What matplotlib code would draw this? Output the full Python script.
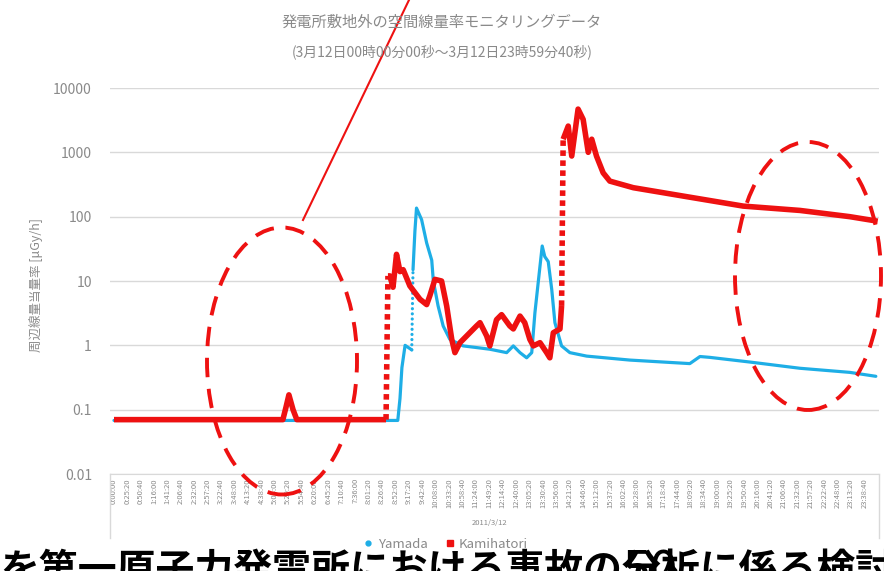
import numpy as np
import matplotlib.pyplot as plt
from matplotlib.patches import Ellipse
from matplotlib.lines import Line2D

plt.rcParams['font.family'] = ['Noto Sans CJK JP', 'DejaVu Sans']

# dose rate readings, time in hours from 0:00 on 2011/3/12
yamada_t = [0, 8.94, 9.01, 9.07, 9.17, 9.38, 9.42, 9.48, 9.53, 9.69, 9.85, 10.01,
            10.06, 10.21, 10.37, 10.58, 11.00, 11.84, 12.37, 12.58, 12.79, 13.00,
            13.16, 13.26, 13.42, 13.49, 13.57, 13.68, 13.79, 13.89, 14.10, 14.36,
            14.89, 16.25, 18.14, 18.46, 18.77, 20.03, 21.61, 23.18, 24.0]
yamada_v = [0.068, 0.068, 0.15, 0.45, 1.0, 0.85, 15, 60, 136, 90, 39, 21,
            10, 4.1, 2.0, 1.24, 0.98, 0.87, 0.77, 0.98, 0.77, 0.64,
            0.77, 3.2, 17, 35, 24, 20, 7.4, 2.25, 0.98, 0.77,
            0.68, 0.59, 0.52, 0.67, 0.65, 0.55, 0.44, 0.38, 0.33]

kami_t = [0, 5.32, 5.42, 5.51, 5.64, 5.76, 8.57, 8.63, 8.69, 8.79, 8.90, 9.01,
          9.11, 9.32, 9.64, 9.85, 9.95, 10.11, 10.32, 10.48, 10.64, 10.74, 10.90,
          11.11, 11.42, 11.53, 11.74, 11.84, 12.05, 12.21, 12.47, 12.58, 12.79,
          12.94, 13.10, 13.21, 13.42, 13.63, 13.73, 13.84, 14.05, 14.10, 14.15,
          14.31, 14.42, 14.62, 14.78, 14.94, 15.05, 15.20, 15.41, 15.62, 16.36,
          17.93, 19.82, 21.61, 23.18, 24.06]
kami_v = [0.07, 0.07, 0.11, 0.17, 0.10, 0.07, 0.07, 12, 12, 8, 26, 14,
          15, 8.4, 5.2, 4.3, 5.9, 10.6, 10, 4.1, 1.24, 0.77, 1.1,
          1.4, 2.0, 2.25, 1.4, 0.98, 2.5, 3.0, 2.0, 1.8, 2.85,
          2.25, 1.24, 0.98, 1.1, 0.77, 0.64, 1.57, 1.8, 4.1, 1600,
          2560, 875, 4700, 3250, 1000, 1600, 875, 480, 357, 282,
          209, 146, 125, 100, 85]

ytick_vals = [0.01, 0.1, 1, 10, 100, 1000, 10000]
ytick_labels = ['0.01', '0.1', '1', '10', '100', '1000', '10000']

# category labels every 25min20s
tick_sec = np.arange(57) * 1520
tick_labels = [f'{s // 3600}:{s % 3600 // 60:02d}:{s % 60:02d}' for s in tick_sec]

RED = '#ee1111'
BLUE = '#1eaee6'
GREY = '#8a8a8a'


def draw_series(ax, t, v, color, lw, cap, dots):
    t = np.asarray(t, float)
    v = np.asarray(v, float)
    slope = np.abs(np.diff(np.log10(v))) / np.diff(t)
    start = 0
    for i, steep in enumerate(slope > 12):
        if steep:
            ax.plot(t[start:i + 1], v[start:i + 1], color=color, lw=lw,
                    solid_capstyle=cap, solid_joinstyle='round')
            ax.plot(t[i:i + 2], v[i:i + 2], color=color, lw=lw,
                    ls=(0, dots), dash_capstyle=cap)
            start = i + 1
    ax.plot(t[start:], v[start:], color=color, lw=lw,
            solid_capstyle=cap, solid_joinstyle='round')


fig = plt.figure(figsize=(8.84, 5.71), dpi=100)
ax = fig.add_axes([110 / 884, 1 - 474 / 571, 769 / 884, 386 / 571])

draw_series(ax, yamada_t, yamada_v, BLUE, 2.3, 'round', (0.01, 1.6))
draw_series(ax, kami_t, kami_v, RED, 4.0, 'butt', (1, 0.8))

ax.set_yscale('log')
ax.set_ylim(0.01, 10000)
ax.set_xlim(-0.126, 24.1)
ax.yaxis.set_major_locator(plt.FixedLocator(ytick_vals))
ax.yaxis.set_major_formatter(plt.FixedFormatter(ytick_labels))
ax.yaxis.set_minor_locator(plt.NullLocator())
ax.set_xticks(tick_sec / 3600)
ax.set_xticklabels(tick_labels, rotation=90, fontsize=5.5, color=GREY)
ax.tick_params(axis='y', length=0, pad=13, labelsize=10, labelcolor=GREY)
ax.tick_params(axis='x', length=0, pad=3)
ax.grid(axis='y', color='#d9d9d9', lw=1)
ax.set_axisbelow(True)
for side in ['top', 'right', 'left']:
    ax.spines[side].set_visible(False)
ax.spines['bottom'].set_color('#d9d9d9')

# date group brackets under the time labels
for xa in [0, 1]:
    ax.plot([xa, xa], [0, -0.165], transform=ax.transAxes, color='#d9d9d9',
            lw=1, clip_on=False)

fig.text(0.5, 1 - 22 / 571, '発電所敷地外の空間線量率モニタリングデータ',
         ha='center', va='center', fontsize=11, color=GREY)
fig.text(0.5, 1 - 52 / 571, '(3月12日00時00分00秒～3月12日23時59分40秒)',
         ha='center', va='center', fontsize=10, color=GREY)
fig.text(36 / 884, 1 - 285 / 571, '周辺線量当量率 [μGy/h]', rotation=90,
         ha='center', va='center', fontsize=9, color=GREY)
fig.text(490 / 884, 1 - 523 / 571, '2011/3/12', ha='center', va='center',
         fontsize=5.5, color=GREY)

handles = [Line2D([], [], ls='', marker='o', ms=3.5, color=BLUE),
           Line2D([], [], ls='', marker='s', ms=5, color=RED)]
fig.legend(handles, ['Yamada', 'Kamihatori'], loc='center',
           bbox_to_anchor=(445 / 884, 1 - 544 / 571), ncol=2, frameon=False,
           fontsize=9.5, labelcolor=GREY, handletextpad=0.2, columnspacing=1.2,
           handlelength=1, borderpad=0.1)

# red dashed call-outs
for cx, cy, w, h in [(282, 361, 150, 267), (808, 276, 146, 268)]:
    fig.add_artist(Ellipse((cx / 884, 1 - cy / 571), w / 884, h / 571,
                           transform=fig.transFigure, fill=False,
                           edgecolor=RED, lw=2.8, ls=(0, (5, 3))))
fig.add_artist(Line2D([303 / 884, 409 / 884], [1 - 220 / 571, 1.0],
                      transform=fig.transFigure, color=RED, lw=1.5))

fig.text(0.0, 1 - 551 / 571, 'を第一原子力発電所における事故の分析に係る検討',
         ha='left', va='top', fontsize=28, fontweight='bold', color='black')
fig.text(650 / 884, 1 - 547 / 571, '50', ha='center', va='top',
         fontsize=36, color='black')

fig.savefig('out.png', dpi=100)
